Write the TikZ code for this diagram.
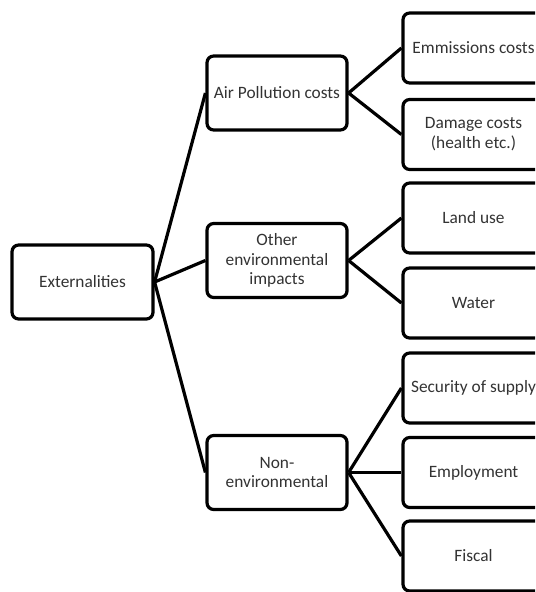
\documentclass[tikz,border=0pt]{standalone}
\usepackage{fontspec}
\setmainfont{Carlito}
\begin{document}
\begin{tikzpicture}[x=0.75pt,y=-0.75pt,
  box/.style={draw=black,line width=2.4pt,rounded corners=5pt,fill=white,align=center,
    font=\fontsize{13pt}{14.8pt}\selectfont,text=black!80,inner sep=1pt},
  midbox/.style={box,minimum width=105pt,minimum height=55.5pt},
  leafbox/.style={box,minimum width=105.75pt,minimum height=52.5pt},
  link/.style={line width=2.4pt}]
\useasboundingbox (0,0) rectangle (535,592);
\clip (0,0) rectangle (535,592);
\node[midbox,minimum width=105.75pt] (ext) at (82.5,282) {Externalities};
\node[midbox] (air) at (277,93) {Air Pollution costs};
\node[midbox] (oth) at (277,260.5) {Other\\environmental\\impacts};
\node[midbox] (non) at (277,472.5) {Non-\\environmental};
\node[leafbox] (emi) at (473.5,48) {Emmissions costs};
\node[leafbox] (dam) at (473.5,134.5) {Damage costs\\(health etc.)};
\node[leafbox] (lan) at (473.5,218) {Land use};
\node[leafbox] (wat) at (473.5,303) {Water};
\node[leafbox] (sec) at (473.5,388) {Security of supply};
\node[leafbox] (emp) at (473.5,472.5) {Employment};
\node[leafbox] (fis) at (473.5,556) {Fiscal};
\draw[link] (ext.east) -- (air.west);
\draw[link] (ext.east) -- (oth.west);
\draw[link] (ext.east) -- (non.west);
\draw[link] (air.east) -- (emi.west);
\draw[link] (air.east) -- (dam.west);
\draw[link] (oth.east) -- (lan.west);
\draw[link] (oth.east) -- (wat.west);
\draw[link] (non.east) -- (sec.west);
\draw[link] (non.east) -- (emp.west);
\draw[link] (non.east) -- (fis.west);
\end{tikzpicture}
\end{document}
